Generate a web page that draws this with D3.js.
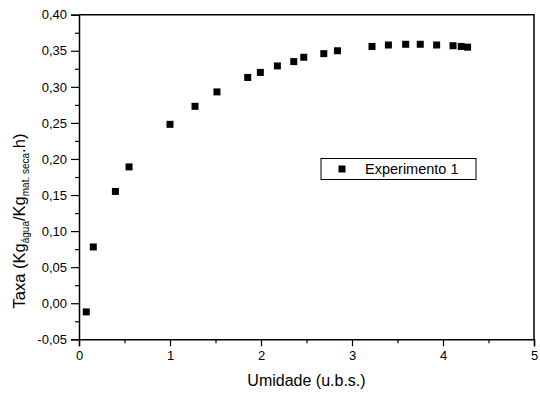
<!DOCTYPE html>
<html>
<head>
<meta charset="utf-8">
<script src="https://cdn.jsdelivr.net/npm/d3@7"></script>
<style>
  html, body { margin: 0; padding: 0; background: #fff; }
  svg { display: block; font-family: "Liberation Sans", Arial, sans-serif; }
</style>
</head>
<body>
<svg id="chart" width="540" height="396"></svg>
<script>
// ---- data ----
const umidade = [0.08, 0.157, 0.40, 0.55, 1.00, 1.275, 1.516, 1.854, 1.993, 2.18, 2.36, 2.47, 2.69, 2.84, 3.22, 3.40, 3.59, 3.75, 3.93, 4.11, 4.20, 4.27];
const taxa = [-0.012, 0.078, 0.155, 0.189, 0.248, 0.273, 0.293, 0.313, 0.320, 0.329, 0.335, 0.341, 0.346, 0.350, 0.356, 0.358, 0.359, 0.359, 0.358, 0.357, 0.356, 0.355];
const xTicks = [0, 1, 2, 3, 4, 5];
const xMinorTicks = [0.5, 1.5, 2.5, 3.5, 4.5];
const yTicks = [-0.05, 0, 0.05, 0.10, 0.15, 0.20, 0.25, 0.30, 0.35, 0.40];
const yMinorTicks = [-0.025, 0.025, 0.075, 0.125, 0.175, 0.225, 0.275, 0.325, 0.375];
const seriesName = "Experimento 1";

// ---- layout ----
const L = 79, R = 534, T = 14.7, B = 339.3;
const svg = d3.select("#chart");
const x = d3.scaleLinear().domain([0, 5]).range([L, R]);
const y = d3.scaleLinear().domain([-0.05, 0.40]).range([B, T]);
const fmtY = v => d3.format(".2f")(v).replace(".", ",").replace("−", "-");

// frame
svg.append("path")
  .attr("d", `M${L},${T}H${R}V${B}`)
  .attr("fill", "none").attr("stroke", "#000").attr("stroke-width", 1.5);

// x axis
svg.append("g").attr("transform", `translate(0,${B})`)
  .call(d3.axisBottom(x).tickValues(xTicks).tickFormat(d3.format("d")).tickSize(7).tickPadding(4));
svg.append("g").attr("transform", `translate(0,${B})`)
  .call(d3.axisBottom(x).tickValues(xMinorTicks).tickFormat("").tickSize(4))
  .select(".domain").remove();

// y axis
svg.append("g").attr("transform", `translate(${L},0)`)
  .call(d3.axisLeft(y).tickValues(yTicks).tickFormat(fmtY).tickSize(8).tickPadding(4));
svg.append("g").attr("transform", `translate(${L},0)`)
  .call(d3.axisLeft(y).tickValues(yMinorTicks).tickFormat("").tickSize(4))
  .select(".domain").remove();

svg.selectAll(".domain").attr("stroke-width", 1.5).attr("stroke", "#000");
svg.selectAll(".tick line").attr("stroke", "#000").attr("stroke-width", 1.2);
svg.selectAll(".tick text").attr("font-size", 13).attr("fill", "#000")
  .attr("font-family", "'Liberation Sans', Arial, sans-serif");

// points
const sq = d3.symbol().type(d3.symbolSquare).size(49);
svg.append("g").selectAll("path").data(umidade.map((u, i) => [u, taxa[i]]))
  .join("path")
  .attr("transform", d => `translate(${x(d[0])},${y(d[1])})`)
  .attr("d", sq).attr("fill", "#000");

// axis titles
svg.append("text")
  .attr("x", (L + R) / 2).attr("y", 386)
  .attr("text-anchor", "middle").attr("font-size", 16)
  .text("Umidade (u.b.s.)");

const yt = svg.append("text")
  .attr("transform", "translate(25,221) rotate(-90)")
  .attr("text-anchor", "middle").attr("font-size", 16.5);
yt.append("tspan").text("Taxa (Kg");
yt.append("tspan").attr("font-size", 10).attr("dy", 4).text("água");
yt.append("tspan").attr("dy", -4).text("/Kg");
yt.append("tspan").attr("font-size", 10).attr("dy", 4).text("mat. seca");
yt.append("tspan").attr("dy", -4).text(".h)");

// legend
const lg = svg.append("g");
lg.append("rect").attr("x", 321).attr("y", 158.5).attr("width", 155).attr("height", 21)
  .attr("fill", "#fff").attr("stroke", "#000").attr("stroke-width", 1);
lg.append("path").attr("transform", "translate(342,169)").attr("d", sq).attr("fill", "#000");
lg.append("text").attr("x", 365).attr("y", 174).attr("font-size", 14.5).text(seriesName);
</script>
</body>
</html>
